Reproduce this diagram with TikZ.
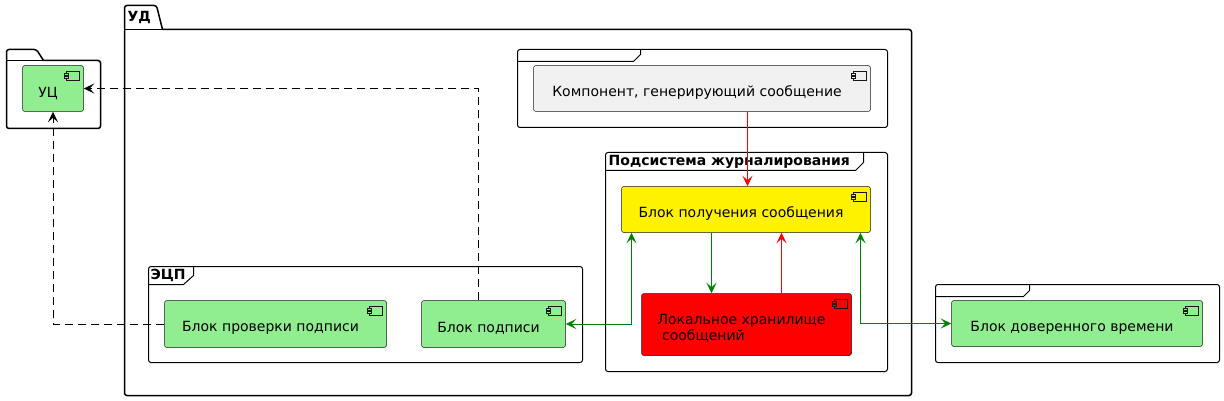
\documentclass[tikz,border=0pt]{standalone}
\usepackage{fontspec}
\setmainfont{DejaVu Sans}
\usetikzlibrary{arrows.meta}
\definecolor{lgreen}{HTML}{90EE90}
\definecolor{cgray}{HTML}{F1F1F1}
\definecolor{cborder}{HTML}{181818}
\definecolor{agreen}{HTML}{008000}
\definecolor{ared}{HTML}{FF0000}
\newcommand\cicon[2]{%
  \draw[iconline, fill=#2] ([shift={(-18,6)}]#1.north east) rectangle ([shift={(-5,15)}]#1.north east);
  \draw[iconline, fill=#2] ([shift={(-20,8)}]#1.north east) rectangle ([shift={(-16,10)}]#1.north east);
  \draw[iconline, fill=#2] ([shift={(-20,11)}]#1.north east) rectangle ([shift={(-16,13)}]#1.north east);}
\begin{document}
\begin{tikzpicture}[x=1pt,y=-1pt,
  comp/.style={draw=cborder, line width=0.5pt, rounded corners=2.5pt, inner sep=0pt},
  iconline/.style={draw=cborder, line width=0.5pt},
  txt/.style={inner sep=0pt, font=\fontsize{14}{16.3}\selectfont},
  lbl/.style={inner sep=0pt, font=\bfseries\fontsize{14}{16.3}\selectfont, anchor=base west},
  folder/.style={draw=black, line width=1.5pt, rounded corners=2.5pt},
  frm/.style={draw=black, line width=1pt, rounded corners=2.5pt},
  frmtab/.style={draw=black, line width=1pt},
  arr/.style={line width=1pt, -{Stealth[length=10.5pt,width=10pt,inset=4.5pt]}},
  barr/.style={line width=1pt, {Stealth[length=10.5pt,width=10pt,inset=4.5pt]}-{Stealth[length=10.5pt,width=10pt,inset=4.5pt]}},
  dasharr/.style={arr, black, dash pattern=on 8pt off 5pt}]
\useasboundingbox (0,0) rectangle (1224,401);
\begin{scope}[shift={(0.5,0.5)}]
% folders
\draw[folder] (43,60) -- (100,60) -- (100,128) -- (6,128) -- (6,49) -- (36,49) -- (43,60);
\draw[folder] (6,60) -- (43,60);
\draw[folder] (162,29) -- (911,29) -- (911,395) -- (124,395) -- (124,5) -- (156,5) -- (162,29);
\draw[folder] (124,29) -- (162,29);
\node[lbl] (ud) at (127,21) {УД};
% frames
\draw[frm] (517,49) rectangle (887,127);
\draw[frmtab] (517,61) -- (633,61) -- (640,54) -- (640,49);
\draw[frm] (605,152) rectangle (887,371);
\draw[frmtab] (605,170) -- (855,170) -- (863,162) -- (863,152);
\node[lbl] (sub) at (608,165) {Подсистема журналирования};
\draw[frm] (148,266) rectangle (582,362);
\draw[frmtab] (148,284) -- (183,284) -- (193,275) -- (193,266);
\node[lbl] (ecp) at (150,279) {ЭЦП};
\draw[frm] (935,284) rectangle (1219,362);
\draw[frmtab] (935,296) -- (1023,296) -- (1029,290) -- (1029,284);
% components
\node[comp, fill=lgreen, minimum width=61, minimum height=46] (uc) at (52.5,88) {};
\node[comp, fill=cgray, minimum width=337, minimum height=46] (gen) at (701.5,88) {};
\node[comp, fill=yellow, minimum width=249, minimum height=46] (yel) at (745.5,209) {};
\node[comp, fill=ared, minimum width=210, minimum height=62] (loc) at (746,324) {};
\node[comp, fill=lgreen, minimum width=222, minimum height=47] (check) at (275,323.5) {};
\node[comp, fill=lgreen, minimum width=144, minimum height=47] (sign) at (493,323.5) {};
\node[comp, fill=lgreen, minimum width=251, minimum height=46] (time) at (1076.5,323) {};
\cicon{uc}{lgreen}
\cicon{gen}{cgray}
\cicon{yel}{yellow}
\cicon{loc}{ared}
\cicon{check}{lgreen}
\cicon{sign}{lgreen}
\cicon{time}{lgreen}
\node[txt] (uc-t) at ([shift={(-5,5)}]uc.center) {УЦ};
\node[txt] (gen-t) at ([shift={(-5,4)}]gen.center) {Компонент, генерирующий сообщение};
\node[txt] (yel-t) at ([shift={(-5,4)}]yel.center) {Блок получения сообщения};
\node[txt, align=left] (loc-t) at ([shift={(-5,4)}]loc.center) {Локальное хранилище\\\hspace*{0.33em}сообщений};
\node[txt] (check-t) at ([shift={(-5,4)}]check.center) {Блок проверки подписи};
\node[txt] (sign-t) at ([shift={(-5,4)}]sign.center) {Блок подписи};
\node[txt] (time-t) at ([shift={(-5,4)}]time.center) {Блок доверенного времени};
% connectors
\draw[arr, color=ared] ([xshift=45.5]gen.south) -- ([xshift=1.5]yel.north);
\draw[arr, color=agreen] ([xshift=-34.5]yel.south) -- ([xshift=-35]loc.north);
\draw[arr, color=ared] ([xshift=35]loc.north) -- ([xshift=35.5]yel.south);
\draw[barr, color=agreen] (sign.east) -| ([xshift=-114.5]yel.south);
\draw[barr, color=agreen] ([xshift=114.5]yel.south) |- (time.west);
\draw[dasharr] ([xshift=-15]sign.north) |- (uc.east);
\draw[dasharr] (check.west) -| (uc.south);
\end{scope}
\end{tikzpicture}
\end{document}
